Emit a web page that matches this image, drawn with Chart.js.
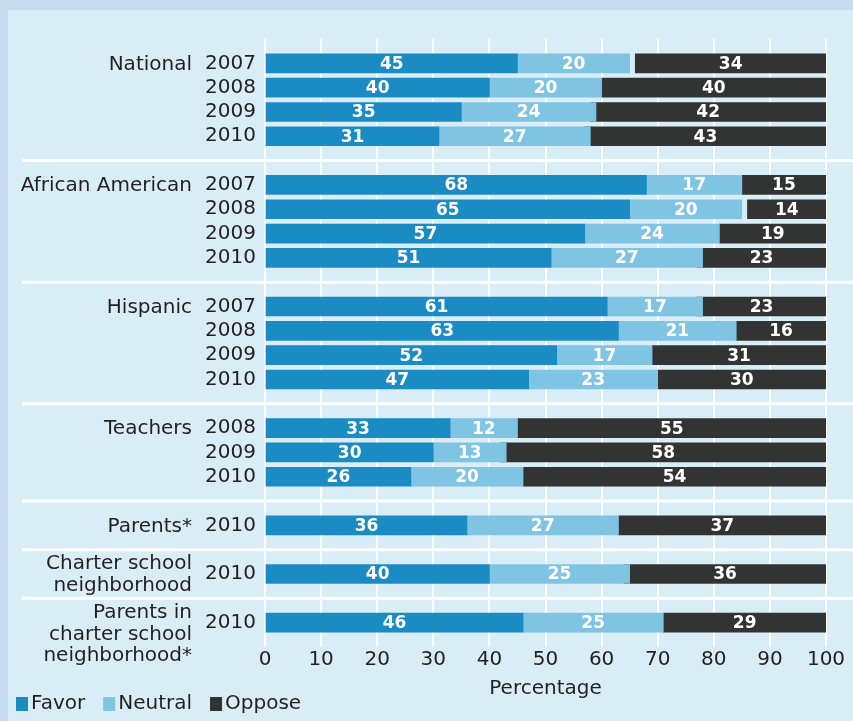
<!DOCTYPE html>
<html>
<head>
<meta charset="utf-8">
<script src="https://cdn.jsdelivr.net/npm/chart.js@4.4.0/dist/chart.umd.min.js"></script>
<style>
    html, body { margin: 0; padding: 0; background: #c5dcef; }
    #wrap { position: relative; width: 853px; height: 721px; overflow: hidden; }
    #panel { position: absolute; left: 8px; top: 10px; right: 0; bottom: 0; background: #d9edf6; }
    #chart { position: absolute; left: 0; top: 0; }
</style>
</head>
<body>
<div id="wrap">
    <div id="panel"></div>
    <canvas id="chart" width="853" height="721"></canvas>
</div>
<script>
// groups and their survey years (top to bottom)
const groupNames = ['National', 'African American', 'Hispanic', 'Teachers', 'Parents*',
    ['Charter school', 'neighborhood'], ['Parents in', 'charter school', 'neighborhood*']];
const groupYears = [
    ['2007', '2008', '2009', '2010'],
    ['2007', '2008', '2009', '2010'],
    ['2007', '2008', '2009', '2010'],
    ['2008', '2009', '2010'],
    ['2010'],
    ['2010'],
    ['2010']
];

// percentages per group, same order as the years
const favor   = [[45, 40, 35, 31], [68, 65, 57, 51], [61, 63, 52, 47], [33, 30, 26], [36], [40], [46]];
const neutral = [[20, 20, 24, 27], [17, 20, 24, 27], [17, 21, 17, 23], [12, 13, 20], [27], [25], [25]];
const oppose  = [[34, 40, 42, 43], [15, 14, 19, 23], [23, 16, 31, 30], [55, 58, 54], [37], [36], [29]];

const seriesNames  = ['Favor', 'Neutral', 'Oppose'];
const seriesColors = ['#1b8bc4', '#7fc4e2', '#323434'];
const xTickValues  = [0, 10, 20, 30, 40, 50, 60, 70, 80, 90, 100];

const FONT = 'DejaVu Sans';
const TEXT = '#231f20';

// flatten groups into rows, with a blank row between groups (and one at each end)
const rowLabels = [''];
const groupStart = [];
const separatorRows = [];
const rowFavor = [null], rowNeutral = [null], rowOppose = [null];
const valFavor = [null], valNeutral = [null], valOppose = [null];

groupYears.forEach(function(years, g) {
    groupStart.push(rowLabels.length);
    years.forEach(function(yr, i) {
        const f = favor[g][i], n = neutral[g][i], o = oppose[g][i];
        rowLabels.push(yr);
        rowFavor.push([0, f]);
        rowNeutral.push([f, f + n]);
        rowOppose.push([100 - o, 100]);   // oppose is anchored on the right edge
        valFavor.push(f); valNeutral.push(n); valOppose.push(o);
    });
    if (g < groupYears.length - 1) separatorRows.push(rowLabels.length);
    rowLabels.push('');
    rowFavor.push(null); rowNeutral.push(null); rowOppose.push(null);
    valFavor.push(null); valNeutral.push(null); valOppose.push(null);
});

// white separator lines between the groups
const separatorPlugin = {
    id: 'separators',
    beforeDatasetsDraw(chart) {
        const ctx = chart.ctx, y = chart.scales.y;
        ctx.save();
        ctx.strokeStyle = '#ffffff';
        ctx.lineWidth = 3;
        separatorRows.forEach(function(r) {
            const py = y.getPixelForValue(r);
            ctx.beginPath();
            ctx.moveTo(22, py);
            ctx.lineTo(chart.width, py);
            ctx.stroke();
        });
        ctx.restore();
    }
};

// numbers inside the bars
const valueLabelPlugin = {
    id: 'valueLabels',
    afterDatasetsDraw(chart) {
        const ctx = chart.ctx;
        ctx.save();
        ctx.font = 'bold 17px "' + FONT + '"';
        ctx.fillStyle = '#ffffff';
        ctx.textAlign = 'center';
        ctx.textBaseline = 'middle';
        chart.data.datasets.forEach(function(ds, di) {
            chart.getDatasetMeta(di).data.forEach(function(el, i) {
                if (ds.values[i] == null) return;
                ctx.fillText(String(ds.values[i]), (el.x + el.base) / 2, el.y + 1);
            });
        });
        ctx.restore();
    }
};

// group names left of the years, plus the legend at the bottom
const sideTextPlugin = {
    id: 'sideText',
    afterDraw(chart) {
        const ctx = chart.ctx, y = chart.scales.y;
        ctx.save();
        ctx.font = '20px "' + FONT + '"';
        ctx.fillStyle = TEXT;
        ctx.textAlign = 'right';
        ctx.textBaseline = 'middle';
        const lh = 21.5;
        groupNames.forEach(function(name, g) {
            const py = y.getPixelForValue(groupStart[g]);
            const lines = Array.isArray(name) ? name : [name];
            lines.forEach(function(line, i) {
                const off = lines.length > 1 ? (i - 0.5) * lh : 0;
                ctx.fillText(line, 192, py + off + 1);
            });
        });

        // legend
        let x = 16;
        const ly = 704;
        ctx.textAlign = 'left';
        chart.data.datasets.forEach(function(ds) {
            ctx.fillStyle = ds.backgroundColor;
            ctx.fillRect(x, ly - 7, 12, 14);
            x += 15;
            ctx.fillStyle = TEXT;
            ctx.fillText(ds.label, x, ly);
            x += ctx.measureText(ds.label).width + 18;
        });
        ctx.restore();
    }
};

Chart.defaults.font.family = FONT;

const ctx = document.getElementById('chart').getContext('2d');
new Chart(ctx, {
    type: 'bar',
    data: {
        labels: rowLabels,
        datasets: [
            { label: seriesNames[0], data: rowFavor,   values: valFavor,   backgroundColor: seriesColors[0] },
            { label: seriesNames[1], data: rowNeutral, values: valNeutral, backgroundColor: seriesColors[1] },
            { label: seriesNames[2], data: rowOppose,  values: valOppose,  backgroundColor: seriesColors[2] }
        ]
    },
    options: {
        indexAxis: 'y',
        responsive: false,
        animation: false,
        grouped: false,
        barThickness: 19,
        borderSkipped: false,
        layout: { padding: { top: 39, right: 27, left: 0, bottom: 0 } },
        plugins: {
            legend: { display: false },
            tooltip: { enabled: false }
        },
        scales: {
            x: {
                type: 'linear',
                position: 'bottom',
                min: 0,
                max: 100,
                afterBuildTicks: function(scale) {
                    scale.ticks = xTickValues.map(function(v) { return { value: v }; });
                },
                afterFit: function(scale) { scale.height = 74; },
                ticks: { font: { size: 20 }, color: TEXT, padding: 1 },
                grid: { color: '#ffffff', lineWidth: 2, drawTicks: false },
                border: { display: false },
                title: {
                    display: true,
                    text: 'Percentage',
                    font: { size: 20 },
                    color: TEXT,
                    padding: { top: 0, bottom: 20 }
                }
            },
            y: {
                type: 'category',
                offset: false,
                afterFit: function(scale) { scale.width = 265; },
                ticks: { font: { size: 20 }, color: TEXT, padding: 9, autoSkip: false },
                grid: { display: false, drawTicks: false },
                border: { display: false }
            }
        }
    },
    plugins: [separatorPlugin, valueLabelPlugin, sideTextPlugin]
});
</script>
</body>
</html>
